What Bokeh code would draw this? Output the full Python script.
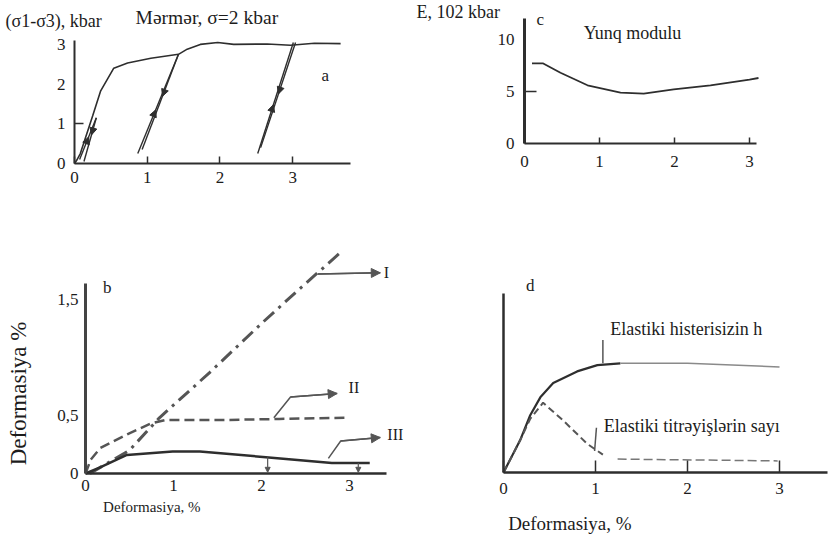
from bokeh.plotting import figure
from bokeh.layouts import column, row
from bokeh.models import Label, Arrow, NormalHead, FixedTicker, Range1d, LinearAxis
from bokeh.embed import file_html
from bokeh.resources import INLINE
import math

SERIF = "Liberation Serif"
INK = "#1c1c1c"
LINE = "#2e2e2e"
GRAY = "#555555"

# ---------------- data: panel a (stress-strain, marble) ----------------
a_x = [0.0, 0.03, 0.08, 0.25, 0.36, 0.54, 0.73, 1.05, 1.43, 1.55, 1.73, 1.97, 2.19, 2.65, 2.97, 3.30, 3.66]
a_y = [0.0, 0.08, 0.25, 1.20, 1.83, 2.40, 2.53, 2.65, 2.75, 2.88, 3.00, 3.05, 3.00, 3.01, 2.98, 3.03, 3.02]
loop1_up_x = [0.07, 0.30]
loop1_up_y = [0.10, 1.15]
loop1_dn_x = [0.30, 0.13]
loop1_dn_y = [1.15, 0.05]
loop2_up_x = [0.87, 1.43]
loop2_up_y = [0.25, 2.75]
loop2_dn_x = [1.43, 0.93]
loop2_dn_y = [2.75, 0.35]
loop3_up_x = [2.52, 3.01]
loop3_up_y = [0.25, 3.05]
loop3_dn_x = [3.04, 2.56]
loop3_dn_y = [3.05, 0.40]
a_ticks = [0, 1, 2, 3]
a_yticks = [0, 1, 2, 3]
a_ymark = [1]

# ---------------- data: panel c (Young's modulus) ----------------
c_x = [0.10, 0.25, 0.48, 0.84, 1.28, 1.59, 1.99, 2.48, 3.00, 3.12]
c_y = [7.7, 7.7, 6.8, 5.6, 4.9, 4.8, 5.2, 5.6, 6.15, 6.3]
c_ticks = [0, 1, 2, 3]
c_yticks = [0, 5, 10]
c_ymark = [5]

# ---------------- data: panel b ----------------
I_x = [0.05, 0.50, 0.84, 1.41, 2.01, 2.43, 2.89]
I_y = [0.00, 0.20, 0.48, 0.87, 1.30, 1.59, 1.90]
II_x = [0.0, 0.06, 0.17, 0.48, 0.74, 0.90, 1.50, 2.20, 2.99]
II_y = [0.0, 0.12, 0.22, 0.34, 0.43, 0.46, 0.46, 0.47, 0.48]
III_x = [0.0, 0.16, 0.47, 0.99, 1.30, 2.05, 2.80, 3.23]
III_y = [0.0, 0.05, 0.16, 0.19, 0.19, 0.14, 0.09, 0.09]
ptrI_x = [2.64, 3.35]
ptrI_y = [1.72, 1.73]
ptrII_x = [2.14, 2.33, 2.86]
ptrII_y = [0.48, 0.66, 0.69]
ptrIII_x = [2.76, 2.90, 3.35]
ptrIII_y = [0.13, 0.28, 0.31]
down_x = [2.07, 3.10]
down_y = [0.14, 0.09]
b_ticks = [0, 1, 2, 3]
b_yticks = [0, 0.5, 1.5]
b_ylabels = {0: "0", 0.5: "0,5", 1.5: "1,5"}

# ---------------- data: panel d ----------------
h_x = [0.0, 0.05, 0.18, 0.29, 0.40, 0.54, 0.80, 1.02, 1.27, 2.00, 3.00]
h_y = [0.0, 0.05, 0.18, 0.32, 0.42, 0.50, 0.565, 0.60, 0.61, 0.61, 0.59]
n_x = [0.0, 0.05, 0.18, 0.29, 0.43, 0.65, 0.91, 1.08]
n_y = [0.0, 0.05, 0.18, 0.30, 0.39, 0.29, 0.16, 0.10]
tail_x = [1.24, 2.98]
tail_y = [0.075, 0.065]
ptr_h_x = [1.08, 1.08]
ptr_h_y = [0.61, 0.74]
ptr_n_x = [0.99, 1.01]
ptr_n_y = [0.12, 0.25]
d_ticks = [0, 1, 2, 3]


def make_fig(w, h, xr, yr):
    p = figure(width=w, height=h, x_range=Range1d(*xr), y_range=Range1d(*yr),
               output_backend="svg", toolbar_location=None,
               min_border_left=0, min_border_right=0,
               min_border_top=0, min_border_bottom=0)
    p.grid.visible = False
    p.outline_line_color = None
    p.background_fill_color = "white"
    p.border_fill_color = "white"
    return p


def style_axis(ax, ticks, width, tick_in, bounds, size="17px", standoff=8, overrides=None):
    ax.fixed_location = 0
    ax.bounds = bounds
    ax.ticker = FixedTicker(ticks=ticks)
    ax.minor_tick_line_color = None
    ax.major_tick_out = 0
    ax.major_tick_in = tick_in
    ax.major_tick_line_color = LINE
    ax.major_tick_line_width = 1.5
    ax.axis_line_color = LINE
    ax.axis_line_width = width
    ax.major_label_text_font = SERIF
    ax.major_label_text_font_size = size
    ax.major_label_text_color = INK
    ax.major_label_standoff = standoff
    if overrides:
        ax.major_label_overrides = overrides


def tick_marks(p, ticks, length, bounds):
    # an extra, unlabelled axis that only draws the short inward tick marks
    ax = LinearAxis(fixed_location=0, bounds=bounds, ticker=FixedTicker(ticks=ticks),
                    major_tick_in=length, major_tick_out=0, major_tick_line_width=1.5,
                    major_tick_line_color=LINE, minor_tick_line_color=None,
                    axis_line_color=None, major_label_text_color=None)
    p.add_layout(ax, "left")


def lab(p, x, y, text, size="18px", align="left", baseline="middle", angle=0.0):
    p.add_layout(Label(x=x, y=y, text=text, text_font=SERIF, text_font_size=size,
                       text_color=INK, text_align=align, text_baseline=baseline,
                       angle=angle))


def head(p, xs, ys, size=8, color=LINE, width=1.5):
    p.add_layout(Arrow(x_start=xs[-2], y_start=ys[-2], x_end=xs[-1], y_end=ys[-1],
                       line_color=color, line_width=width,
                       end=NormalHead(size=size, fill_color=color, line_color=color)))


def mid_head(p, xs, ys, frac, size=7):
    # small arrow head placed part-way along a straight branch
    x0, y0, x1, y1 = xs[0], ys[0], xs[-1], ys[-1]
    xa = x0 + (x1 - x0) * frac
    ya = y0 + (y1 - y0) * frac
    xb = x0 + (x1 - x0) * (frac + 0.04)
    yb = y0 + (y1 - y0) * (frac + 0.04)
    p.add_layout(Arrow(x_start=xa, y_start=ya, x_end=xb, y_end=yb, line_color=LINE,
                       line_width=1.2, end=NormalHead(size=size, fill_color=LINE, line_color=LINE)))


# ---------------- panel a ----------------
fa = make_fig(415, 215, (-1.018, 4.69), (-1.31, 4.106))
style_axis(fa.xaxis[0], a_ticks, 2, 7, (0, 3.8), standoff=9)
style_axis(fa.yaxis[0], a_yticks, 2, 0, (0, 3.1), standoff=9)
tick_marks(fa, a_ymark, 9, (0, 3.1))
fa.line(a_x, a_y, line_color=LINE, line_width=1.6)
for xs, ys in [(loop1_up_x, loop1_up_y), (loop1_dn_x, loop1_dn_y),
               (loop2_up_x, loop2_up_y), (loop2_dn_x, loop2_dn_y),
               (loop3_up_x, loop3_up_y), (loop3_dn_x, loop3_dn_y)]:
    fa.line(xs, ys, line_color=LINE, line_width=1.4)
mid_head(fa, loop1_up_x, loop1_up_y, 0.5)
mid_head(fa, loop1_dn_x, loop1_dn_y, 0.35)
mid_head(fa, loop2_up_x, loop2_up_y, 0.4)
mid_head(fa, loop2_dn_x, loop2_dn_y, 0.4)
mid_head(fa, loop3_up_x, loop3_up_y, 0.4)
mid_head(fa, loop3_dn_x, loop3_dn_y, 0.45)
lab(fa, -0.95, 3.6, "(σ1-σ3), kbar", size="18px")
lab(fa, 0.84, 3.68, "Mərmər, σ=2 kbar", size="19.5px")
lab(fa, 3.45, 2.22, "a", size="17px", align="center")

# ---------------- panel c ----------------
fc = make_fig(418, 215, (-1.453, 4.12), (-6.92, 13.75))
style_axis(fc.xaxis[0], c_ticks, 2, 6, (0, 3.1), standoff=12)
style_axis(fc.yaxis[0], c_yticks, 3, 0, (0, 12.0), standoff=10)
tick_marks(fc, c_ymark, 12, (0, 12.0))
fc.line(c_x, c_y, line_color=LINE, line_width=1.8)
lab(fc, -1.44, 12.6, "E, 102 kbar", size="18px")
lab(fc, 0.16, 11.9, "c", size="17px")
lab(fc, 0.79, 10.6, "Yunq modulu", size="18px")

# ---------------- panel b ----------------
fb = make_fig(415, 322, (-0.966, 3.75), (-0.552, 2.224))
style_axis(fb.xaxis[0], b_ticks, 2.5, 0, (0, 3.42), standoff=7)
style_axis(fb.yaxis[0], b_yticks, 3, 0, (0, 1.64), standoff=7, overrides=b_ylabels)
fb.yaxis[0].axis_line_color = "#444444"
fb.line(I_x, I_y, line_color=GRAY, line_width=3, line_dash="14 6 3 6")
fb.line(II_x, II_y, line_color=GRAY, line_width=2.5, line_dash="10 5")
fb.line(III_x, III_y, line_color=LINE, line_width=2.5)
fb.line(ptrI_x, ptrI_y, line_color=GRAY, line_width=1.5)
head(fb, ptrI_x, ptrI_y, size=9, color=GRAY, width=1.5)
fb.line(ptrII_x, ptrII_y, line_color=GRAY, line_width=1.5)
head(fb, ptrII_x, ptrII_y, size=9, color=GRAY, width=1.5)
fb.line(ptrIII_x, ptrIII_y, line_color=GRAY, line_width=1.5)
head(fb, ptrIII_x, ptrIII_y, size=9, color=GRAY, width=1.5)
for xv, yv in zip(down_x, down_y):
    head(fb, [xv, xv], [yv, 0.01], size=5, color=GRAY, width=1.2)
lab(fb, 3.39, 1.73, "I", size="16px")
lab(fb, 2.99, 0.74, "II", size="16px")
lab(fb, 3.43, 0.34, "III", size="16px")
lab(fb, 0.2, 1.6, "b", size="17px")
lab(fb, -0.76, 0.69, "Deformasiya %", size="23px", align="center", angle=math.pi / 2)
lab(fb, 0.2, -0.29, "Deformasiya, %", size="15px")

# ---------------- panel d ----------------
fd = make_fig(418, 322, (-0.957, 3.587), (-0.363, 1.436))
style_axis(fd.xaxis[0], d_ticks, 2.5, 12, (0, 3.52), standoff=10)
style_axis(fd.yaxis[0], [], 2.5, 0, (0, 1.0))
fd.yaxis[0].major_label_text_color = None
fd.line(h_x[:9], h_y[:9], line_color=LINE, line_width=2.2)
fd.line(h_x[8:], h_y[8:], line_color="#8a8a8a", line_width=1.5)
fd.line(n_x, n_y, line_color=GRAY, line_width=2, line_dash="7 4")
fd.line(tail_x, tail_y, line_color="#777777", line_width=1.5, line_dash="9 4")
fd.line(ptr_h_x, ptr_h_y, line_color=GRAY, line_width=1.5)
fd.line(ptr_n_x, ptr_n_y, line_color=GRAY, line_width=1.5)
lab(fd, 0.29, 1.045, "d", size="17px", align="center")
lab(fd, 1.16, 0.80, "Elastiki histerisizin h", size="18px")
lab(fd, 1.09, 0.26, "Elastiki titrəyişlərin sayı", size="18px")
lab(fd, 0.05, -0.285, "Deformasiya, %", size="19px")

layout = column(row(fa, fc), row(fb, fd))
open("out.html", "w").write(file_html(layout, INLINE))
